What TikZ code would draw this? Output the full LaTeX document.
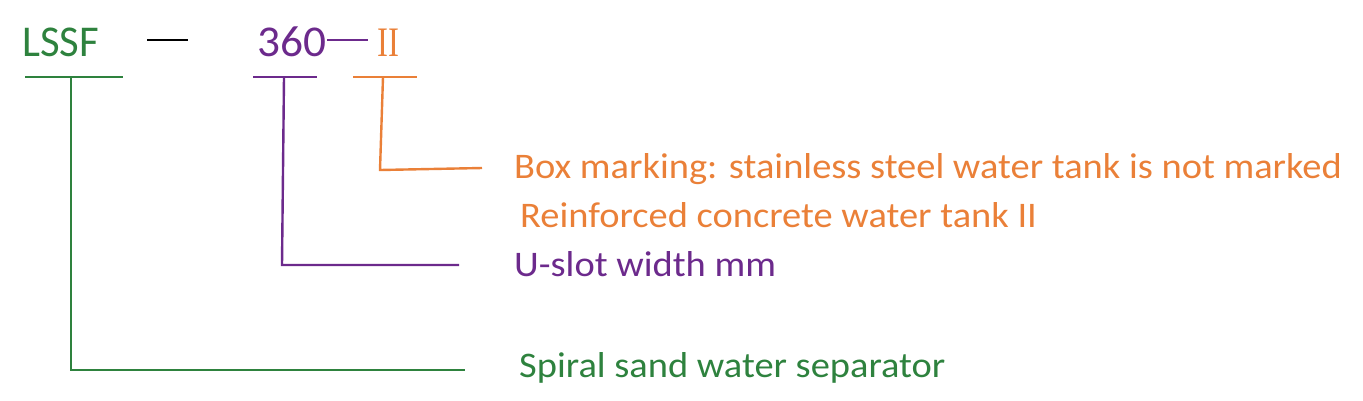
\documentclass[tikz,border=0pt]{standalone}
\usepackage{fontspec}
\setmainfont{Carlito}
\newfontfamily\serifII{Liberation Serif}
\definecolor{cgreen}{RGB}{46,130,62}
\definecolor{cpurple}{RGB}{108,42,140}
\definecolor{corange}{RGB}{234,128,56}
\tikzset{
  code/.style={anchor=base west, inner sep=0pt, font=\fontsize{44}{50}\selectfont},
  desc/.style={anchor=base west, inner sep=0pt, xscale=1.068, font=\fontsize{36}{42}\selectfont},
  bar/.style={line width=2.8pt},
  lead/.style={line width=2.4pt},
}
\begin{document}
\begin{tikzpicture}[x=1pt,y=-1pt]
\useasboundingbox (0,0) rectangle (1363,400);
% code line
\node[code, text=cgreen, xscale=0.97] (lssf) at (22,56) {LSSF};
\node[code, text=cpurple, xscale=1.03] (n360) at (257,56) {360};
\node[code, text=corange, xscale=0.78, font=\fontsize{42}{46}\serifII] (ii) at (377,56) {II};
\coordinate (d1a) at (147,40); \coordinate (d1b) at (188,40);
\draw[line width=1.6pt, black] (d1a) -- (d1b);
\coordinate (d2a) at (327,40); \coordinate (d2b) at (368,40);
\draw[line width=1.6pt, cpurple] (d2a) -- (d2b);
% descriptions
\node[desc, text=corange] (box) at (514,178) {Box marking: stainless steel water tank is not marked};
\node[desc, text=corange] (rc) at (520,227) {Reinforced concrete water tank II};
\node[desc, text=cpurple] (us) at (514,276) {U-slot width mm};
\node[desc, text=cgreen] (sp) at (519,377) {Spiral sand water separator};
% bars
\coordinate (g1) at (25,77); \coordinate (g2) at (123,77);
\coordinate (gt) at (71,77); \coordinate (gc) at (71,370); \coordinate (ge) at (465,370);
\draw[bar, cgreen] (g1) -- (g2);
\draw[lead, cgreen] (gt) -- (gc) -- (ge);
\coordinate (p1) at (253,77); \coordinate (p2) at (317,77);
\coordinate (pt) at (284,77); \coordinate (pc) at (282,265); \coordinate (pe) at (459,265);
\draw[bar, cpurple] (p1) -- (p2);
\draw[lead, cpurple] (pt) -- (pc) -- (pe);
\coordinate (o1) at (353,77); \coordinate (o2) at (417,77);
\coordinate (ot) at (383,77); \coordinate (oc) at (380,170); \coordinate (oe) at (482,168);
\draw[bar, corange] (o1) -- (o2);
\draw[lead, corange] (ot) -- (oc) -- (oe);
\end{tikzpicture}
\end{document}
